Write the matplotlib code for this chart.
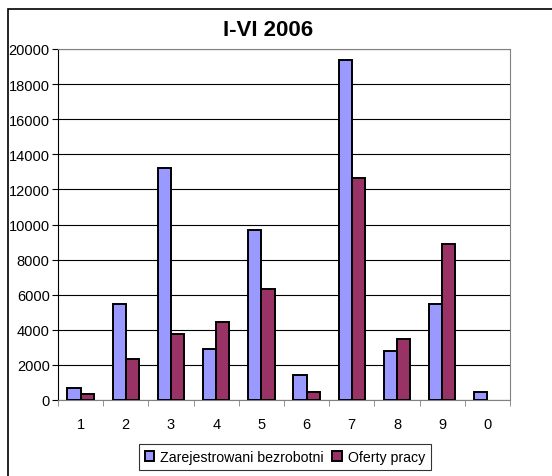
import matplotlib
matplotlib.use('Agg')
import matplotlib.pyplot as plt
from matplotlib.patches import Rectangle
import numpy as np

plt.rcParams['font.family'] = ['Liberation Sans', 'DejaVu Sans']

categories = ['1', '2', '3', '4', '5', '6', '7', '8', '9', '0']
bezrobotni = [670, 5450, 13220, 2890, 9690, 1440, 19350, 2770, 5450, 440]
oferty = [320, 2340, 3780, 4440, 6320, 440, 12670, 3460, 8890, 0]

fig = plt.figure(figsize=(5.52, 4.77), dpi=100)

# chart area border (cut off at right and bottom)
fig.patches.append(Rectangle((8 / 552, -0.1), 1.2, 1.1 - 10 / 477,
                             transform=fig.transFigure, fill=False,
                             edgecolor='black', linewidth=1.2))

ax = fig.add_axes([58 / 552, 1 - 401 / 477, (510 - 58) / 552, (401 - 50) / 477])

x = np.arange(len(categories))
w = 0.29
b1 = ax.bar(x - w / 2, bezrobotni, w, color='#9999FF', edgecolor='black',
            linewidth=1.4, label='Zarejestrowani bezrobotni', zorder=3)
b2 = ax.bar(x + w / 2, oferty, w, color='#993366', edgecolor='black',
            linewidth=1.4, label='Oferty pracy', zorder=3)
# empty bars draw nothing
for bars, vals in ((b1, bezrobotni), (b2, oferty)):
    for patch, v in zip(bars, vals):
        if v == 0:
            patch.set_visible(False)

ax.set_xlim(-0.5, len(categories) - 0.5)
ax.set_ylim(0, 20000)
ax.set_yticks(np.arange(0, 20001, 2000))
ax.yaxis.grid(True, color='black', linewidth=0.8, zorder=0)
ax.set_axisbelow(True)

ax.set_xticks(x)
ax.set_xticklabels(categories)
ax.set_xticks(np.arange(-0.5, len(categories)), minor=True)
ax.tick_params(axis='x', which='major', length=0, pad=12, labelsize=10.5)
ax.tick_params(axis='x', which='minor', length=4, direction='out', color='gray')
ax.tick_params(axis='y', length=4, direction='out', labelsize=10.5, pad=2)

ax.spines['top'].set_color('gray')
ax.spines['right'].set_color('gray')
ax.spines['bottom'].set_color('gray')
ax.spines['left'].set_color('black')

fig.text(268 / 552, 1 - 30 / 477, 'I-VI 2006', ha='center', va='center',
         fontsize=16, fontweight='bold')

leg = fig.legend(loc='center', bbox_to_anchor=(0.516, 1 - 458 / 477), ncol=2,
                 fontsize=10.2, frameon=True, fancybox=False, edgecolor='black',
                 handlelength=0.7, handleheight=0.7, handletextpad=0.4,
                 columnspacing=0.6, borderpad=0.4)
leg.get_frame().set_linewidth(0.8)

fig.savefig('out.png', dpi=100)
